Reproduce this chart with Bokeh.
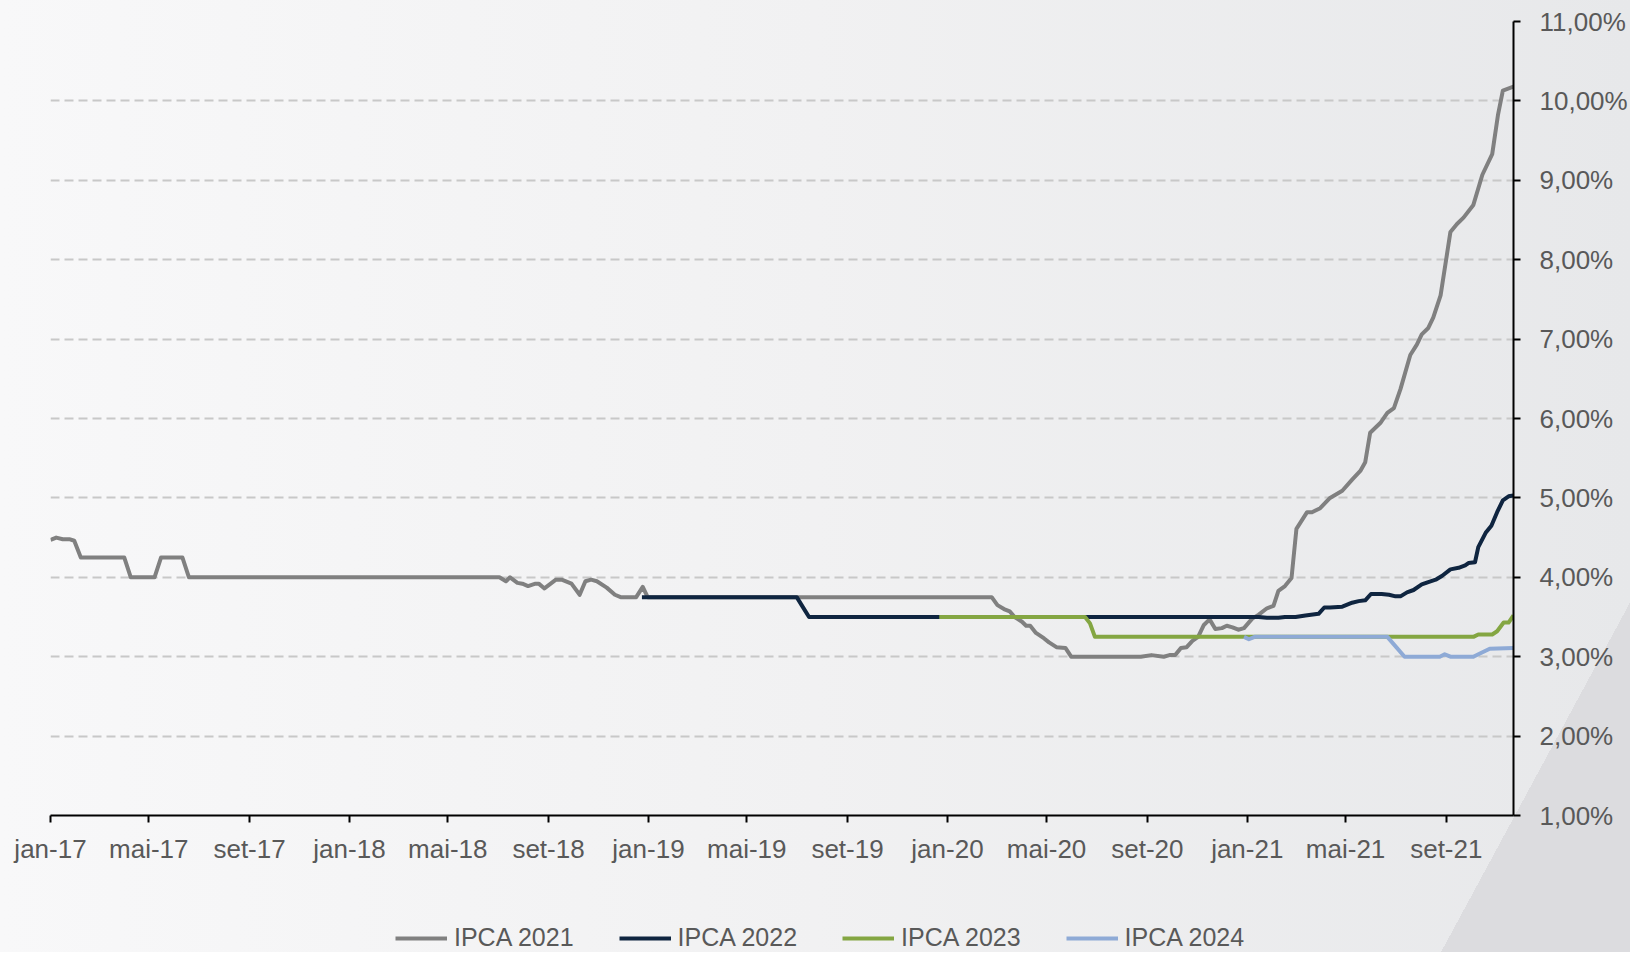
import pandas as pd
from bokeh.plotting import figure
from bokeh.layouts import column
from bokeh.models import (Range1d, FixedTicker, Legend, LegendItem,
                          CustomJSTickFormatter, InlineStyleSheet)
from bokeh.embed import file_html
from bokeh.resources import INLINE

# ---------------- data ----------------
series_names = ["IPCA 2021", "IPCA 2022", "IPCA 2023", "IPCA 2024"]
series_colors = ["#808080", "#0f2540", "#84a642", "#8eaad6"]

dates_2021 = [
    "2017-01-01", "2017-01-08", "2017-01-16", "2017-01-24", "2017-01-30", "2017-02-07",
    "2017-04-01", "2017-04-09", "2017-05-08", "2017-05-16", "2017-06-11", "2017-06-19",
    "2018-07-03", "2018-07-11", "2018-07-16", "2018-07-25", "2018-07-31", "2018-08-07",
    "2018-08-16", "2018-08-20", "2018-08-27", "2018-09-10", "2018-09-17", "2018-09-29",
    "2018-10-09", "2018-10-16", "2018-10-23", "2018-10-30", "2018-11-11", "2018-11-21",
    "2018-11-28", "2018-12-17", "2018-12-25", "2018-12-31",
    "2020-02-24", "2020-03-02", "2020-03-10", "2020-03-17", "2020-03-23", "2020-04-01",
    "2020-04-06", "2020-04-11", "2020-04-18", "2020-04-28", "2020-05-04", "2020-05-13",
    "2020-05-24", "2020-05-31", "2020-08-24", "2020-09-06", "2020-09-21", "2020-09-28",
    "2020-10-05", "2020-10-12", "2020-10-19", "2020-10-26", "2020-11-02", "2020-11-09",
    "2020-11-16", "2020-11-23", "2020-12-01", "2020-12-07", "2020-12-14", "2020-12-21",
    "2020-12-28", "2021-01-07", "2021-01-15", "2021-01-25", "2021-02-02", "2021-02-08",
    "2021-02-16", "2021-02-24", "2021-03-02", "2021-03-15", "2021-03-21", "2021-03-31",
    "2021-04-12", "2021-04-27", "2021-05-09", "2021-05-19", "2021-05-25", "2021-05-31",
    "2021-06-13", "2021-06-21", "2021-06-29", "2021-07-07", "2021-07-19", "2021-07-27",
    "2021-08-02", "2021-08-10", "2021-08-16", "2021-08-25", "2021-09-06", "2021-09-14",
    "2021-09-22", "2021-10-04", "2021-10-15", "2021-10-27", "2021-11-03", "2021-11-09",
    "2021-11-22",
]
ipca_2021 = [
    4.47, 4.50, 4.48, 4.48, 4.46, 4.25,
    4.25, 4.00, 4.00, 4.25, 4.25, 4.00,
    4.00, 3.95, 4.00, 3.93, 3.92, 3.89,
    3.92, 3.92, 3.86, 3.97, 3.97, 3.92,
    3.78, 3.95, 3.97, 3.95, 3.87, 3.78,
    3.75, 3.75, 3.88, 3.75,
    3.75, 3.65, 3.60, 3.57, 3.50, 3.44,
    3.39, 3.39, 3.30, 3.23, 3.18, 3.12,
    3.11, 3.00, 3.00, 3.02, 3.00, 3.02,
    3.02, 3.11, 3.12, 3.20, 3.25, 3.40,
    3.47, 3.35, 3.36, 3.39, 3.37, 3.34,
    3.36, 3.48, 3.53, 3.61, 3.64, 3.83,
    3.89, 3.99, 4.61, 4.82, 4.82, 4.87,
    5.00, 5.09, 5.23, 5.34, 5.45, 5.82,
    5.95, 6.07, 6.13, 6.37, 6.80, 6.93,
    7.06, 7.14, 7.27, 7.55, 8.35, 8.45,
    8.53, 8.69, 9.07, 9.33, 9.82, 10.13,
    10.18,
]

dates_2022 = [
    "2018-12-24", "2019-07-01", "2019-07-07", "2019-07-16", "2021-01-15", "2021-01-25",
    "2021-02-08", "2021-02-16", "2021-03-01", "2021-03-13", "2021-03-29", "2021-04-05",
    "2021-04-12", "2021-04-27", "2021-05-09", "2021-05-17", "2021-05-25", "2021-06-01",
    "2021-06-14", "2021-06-23", "2021-07-01", "2021-07-07", "2021-07-15", "2021-07-23",
    "2021-08-02", "2021-08-10", "2021-08-19", "2021-08-27", "2021-09-06", "2021-09-16",
    "2021-09-24", "2021-09-28", "2021-10-06", "2021-10-10", "2021-10-19", "2021-10-26",
    "2021-11-02", "2021-11-09", "2021-11-16", "2021-11-22",
]
ipca_2022 = [
    3.75, 3.75, 3.65, 3.50, 3.50, 3.49,
    3.49, 3.50, 3.50, 3.52, 3.54, 3.62,
    3.62, 3.63, 3.68, 3.70, 3.71, 3.79,
    3.79, 3.78, 3.76, 3.76, 3.81, 3.84,
    3.91, 3.94, 3.97, 4.02, 4.10, 4.12,
    4.15, 4.18, 4.19, 4.38, 4.56, 4.65,
    4.82, 4.97, 5.02, 5.03,
]

dates_2023 = [
    "2019-12-22", "2020-06-17", "2020-06-23", "2020-06-29", "2021-10-04", "2021-10-10",
    "2021-10-27", "2021-11-02", "2021-11-10", "2021-11-16", "2021-11-22",
]
ipca_2023 = [3.50, 3.50, 3.42, 3.25, 3.25, 3.28, 3.28, 3.32, 3.43, 3.43, 3.52]

dates_2024 = [
    "2020-12-28", "2021-01-03", "2021-01-10", "2021-06-21", "2021-07-12", "2021-08-24",
    "2021-08-30", "2021-09-06", "2021-10-04", "2021-10-12", "2021-10-24", "2021-11-22",
]
ipca_2024 = [3.25, 3.22, 3.25, 3.25, 3.00, 3.00, 3.03, 3.00, 3.00, 3.04, 3.10, 3.11]

x_start, x_end = "2017-01-01", "2021-11-22"
tick_dates = ["2017-01-01", "2017-05-01", "2017-09-01", "2018-01-01", "2018-05-01",
              "2018-09-01", "2019-01-01", "2019-05-01", "2019-09-01", "2020-01-01",
              "2020-05-01", "2020-09-01", "2021-01-01", "2021-05-01", "2021-09-01"]
tick_labels = ["jan-17", "mai-17", "set-17", "jan-18", "mai-18", "set-18", "jan-19",
               "mai-19", "set-19", "jan-20", "mai-20", "set-20", "jan-21", "mai-21", "set-21"]
y_ticks = [1, 2, 3, 4, 5, 6, 7, 8, 9, 10, 11]
y_tick_labels = ["1,00%", "2,00%", "3,00%", "4,00%", "5,00%", "6,00%", "7,00%",
                 "8,00%", "9,00%", "10,00%", "11,00%"]

all_dates = [dates_2021, dates_2022, dates_2023, dates_2024]
all_values = [ipca_2021, ipca_2022, ipca_2023, ipca_2024]

# ---------------- main chart ----------------
FONT = "Liberation Sans"
TXT = "#595959"
W = 1630
H_MAIN = 876
H_LEG = 76

p = figure(x_axis_type="datetime", y_axis_location="right",
           x_range=Range1d(pd.Timestamp(x_start), pd.Timestamp(x_end)),
           y_range=Range1d(1, 11),
           width=W, height=H_MAIN,
           min_border_left=50, min_border_top=21, min_border_right=115,
           min_border_bottom=61,
           output_backend="svg", toolbar_location=None)

p.background_fill_alpha = 0
p.border_fill_alpha = 0
p.outline_line_color = None

NEAREST = """
let best = -1, bd = Infinity;
for (let i = 0; i < tv.length; i++) { const d = Math.abs(tv[i] - tick); if (d < bd) { bd = d; best = i; } }
return bd < tol ? labs[best] : '';
"""
tick_ms = [float(pd.Timestamp(d).value // 10**6) for d in tick_dates]
p.xaxis.ticker = FixedTicker(ticks=tick_ms)
p.xaxis.formatter = CustomJSTickFormatter(
    args=dict(tv=tick_ms, labs=tick_labels, tol=86400000.0), code=NEAREST)
p.yaxis.ticker = FixedTicker(ticks=y_ticks)
p.yaxis.formatter = CustomJSTickFormatter(
    args=dict(tv=y_ticks, labs=y_tick_labels, tol=0.01), code=NEAREST)

for ax in (p.xaxis[0], p.yaxis[0]):
    ax.axis_line_color = "black"
    ax.axis_line_width = 2
    ax.major_tick_line_color = "black"
    ax.major_tick_line_width = 2
    ax.major_tick_in = 0
    ax.major_tick_out = 7
    ax.minor_tick_line_color = None
    ax.major_label_text_font = FONT
    ax.major_label_text_font_size = "26px"
    ax.major_label_text_color = TXT
p.xaxis.major_label_standoff = 11
p.yaxis.major_label_standoff = 19

p.xgrid.grid_line_color = None
p.ygrid.grid_line_color = "#c8c8c8"
p.ygrid.grid_line_width = 2
p.ygrid.grid_line_dash = "9 5"

for color, ds, vs in zip(series_colors, all_dates, all_values):
    p.line(x=pd.to_datetime(ds), y=vs, line_color=color, line_width=4,
           line_join="round")

# ---------------- legend strip (same series, drawn out of view; only the keys show) ----
q = figure(width=W, height=H_LEG,
           x_range=Range1d(pd.Timestamp(x_start), pd.Timestamp(x_end)),
           y_range=Range1d(-2, -1),
           x_axis_location=None, y_axis_location=None,
           min_border_left=0, min_border_right=0, min_border_top=0, min_border_bottom=0,
           output_backend="svg", toolbar_location=None)
q.background_fill_alpha = 0
q.border_fill_alpha = 0
q.outline_line_color = None
q.grid.visible = False

items = []
for name, color, ds, vs in zip(series_names, series_colors, all_dates, all_values):
    r = q.line(x=pd.to_datetime(ds), y=vs, line_color=color, line_width=4)
    items.append(LegendItem(label=name, renderers=[r]))

legend = Legend(items=items, orientation="horizontal", location=(345, 0),
                padding=0, margin=0, spacing=45, glyph_width=52, glyph_height=24,
                label_height=24, label_standoff=7,
                label_text_font=FONT, label_text_font_size="25px",
                label_text_color=TXT, border_line_color=None,
                background_fill_alpha=0)
q.add_layout(legend, "center")

layout = column(p, q, spacing=0)
layout.stylesheets = [InlineStyleSheet(css="""
:host {
  background:
    linear-gradient(118.4deg, rgba(220,220,223,0) 91.19%, #dcdcdf 91.19%),
    linear-gradient(90deg, #f8f8f9 0%, #f1f1f2 50%, #e7e8ea 100%);
}
""")]

open("out.html", "w").write(file_html(layout, INLINE))
